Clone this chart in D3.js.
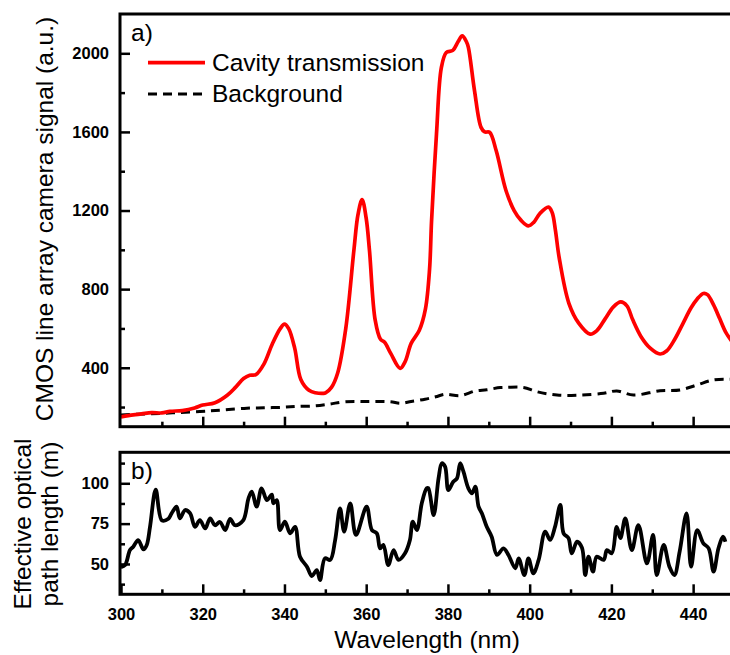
<!DOCTYPE html>
<html>
<head>
<meta charset="utf-8">
<script src="https://cdn.jsdelivr.net/npm/d3@7"></script>
<style>
  body { margin: 0; background: #fff; }
  svg { display: block; font-family: Arial, "Liberation Sans", sans-serif; }
</style>
</head>
<body>
<div id="chart"></div>
<script>

// panel a) cavity transmission, wavelength (nm) / signal (a.u.)
const cavityWl = [300, 303, 305, 307.5, 310, 312, 315, 318, 320, 323, 326, 328, 330, 331.5, 333, 335, 337, 339, 340, 341,
    342.5, 344, 346, 347.5, 350, 351.5, 353, 355, 357, 358, 359, 360, 360.8, 362.2, 363.5, 364.5, 366, 368.3, 369.5, 371,
    373, 374.5, 375.5, 376, 377.2, 378.4, 379.6, 381.2, 382.5, 383.5, 384.5, 385, 386.5, 388.1, 389, 390.2, 391.8, 394.2, 396.2, 397.9,
    399.7, 401, 402.5, 404.6, 405.5, 406.3, 407.2, 409.6, 412, 414.8, 416.5, 418.5, 420.5, 422.3, 423.8, 425.2, 427.3, 429.5, 431.9, 433.5,
    435.5, 437.5, 439.5, 441, 442.5, 443.5, 445, 446.5, 448, 450];
const cavitySig = [150, 160, 165, 172, 170, 178, 182, 195, 210, 222, 260, 300, 345, 362, 365, 420, 520, 600, 622, 600,
    500, 340, 285, 273, 272, 300, 372, 600, 1000, 1180, 1255, 1160, 997, 642, 545, 530, 473, 397, 430, 524,
    591, 700, 900, 1150, 1590, 1928, 2004, 2015, 2060, 2089, 2060, 2030, 1810, 1623, 1600, 1598, 1505, 1302, 1200, 1150,
    1122, 1140, 1185, 1217, 1190, 1100, 963, 728, 627, 571, 590, 650, 710, 735, 715, 645, 557, 500, 470, 485,
    545, 625, 705, 750, 778, 772, 720, 650, 580, 520];

// panel a) background
const bgWl = [300, 310, 319.3, 325, 330.8, 335, 339.7, 343, 347.5, 351, 354.8, 360, 365.9, 368.3, 371, 374.4, 377, 379.3, 383, 386.7,
    389.5, 392.8, 394.4, 398.5, 401.8, 406.7, 412.4, 418.1, 421.3, 425.4, 431.9, 436.8, 440.9, 445, 449.1, 450];
const bgSig = [160, 168, 177, 185, 194, 196, 199, 203, 206, 215, 227, 228, 227, 219, 228, 240, 252, 265, 258, 282,
    288, 299, 300, 300, 278, 261, 261, 270, 282, 261, 283, 287, 312, 338, 341, 342];

// panel b) effective optical path length (m)
const pathWl = [300, 301.0, 302.2, 303.0, 304.2, 305.5, 306.3, 307.1, 308.5, 310.0, 311.6, 312.4, 313.6, 314.4, 315.7, 316.9, 318.1, 319.3, 320.6, 321.8,
    323.0, 324.2, 325.5, 326.7, 327.9, 329.9, 331.2, 332.0, 333.2, 334.4, 335.7, 336.9, 337.3, 338.1, 338.9, 340.1, 341.4, 342.6, 343.8, 345.5,
    346.7, 347.9, 348.7, 349.9, 351.2, 352.4, 353.6, 354.6, 356.1, 357.5, 360.1, 361.4, 362.6, 363.4, 364.2, 365.4, 366.7, 367.9, 369.5, 370.7,
    371.4, 372.4, 373.6, 374.8, 375.2, 376.5, 377.7, 378.5, 379.3, 380.1, 381.3, 382.2, 383.0, 383.8, 385.0, 385.9, 386.7, 387.5, 388.3, 389.5,
    390.7, 392.0, 393.6, 394.8, 396.5, 397.3, 398.7, 399.7, 400.9, 402.2, 403.8, 405.0, 406.2, 407.5, 408.3, 409.5, 410.3, 411.6, 412.8, 413.6,
    414.4, 415.5, 416.4, 418.1, 418.9, 420.1, 421.3, 422.2, 423.4, 425.0, 426.6, 428.7, 430.2, 431.1, 432.8, 434.2, 435.4, 436.7, 438.4, 439.5,
    441.0, 442.5, 443.8, 445.0, 446.2, 447.3, 447.9];
const pathLen = [48, 49.3, 58.6, 60.7, 64.8, 59, 61.8, 73, 96, 77, 78, 81.4, 85.5, 78.3, 83.4, 81.4, 73, 77.2, 72, 78.3,
    74, 76, 71, 78, 74, 77, 90.7, 94.8, 85.5, 96.9, 89.6, 93, 87.6, 89.6, 71, 76.2, 69, 73, 54.5, 48.3,
    42.5, 46.2, 40, 53.5, 52.5, 64.8, 84.5, 70, 87.6, 68, 85.5, 71, 69, 59.7, 61.8, 49.3, 58.6, 52.5, 56.6, 64.8,
    76.2, 71, 87.6, 96.9, 97, 80.3, 103, 112.4, 110.3, 95.8, 101, 103, 112.4, 107.2, 96.9, 93.8, 97.9, 85.5, 81.4, 73,
    66.9, 55.6, 59.7, 55.6, 47.3, 53.5, 43.1, 53.5, 44.2, 52.5, 70, 64.9, 73, 86.6, 69, 66, 56.6, 63.8, 60, 43.1,
    54.5, 45.2, 54.5, 52.5, 58.6, 56.6, 73, 66, 78.3, 58.6, 74.1, 50.4, 68, 43.1, 61.8, 48.3, 43.1, 57.6, 81.4, 48.3,
    71, 62.8, 59.7, 45.2, 59.7, 66.9, 63.8];

const topTicks = [400, 800, 1200, 1600, 2000];
const topMinor = [200, 600, 1000, 1400, 1800];
const botTicks = [50, 75, 100];
const botMinor = [37.5, 62.5, 87.5, 112.5];
const xTicks = [300, 320, 340, 360, 380, 400, 420, 440];
const xMinor = [310, 330, 350, 370, 390, 410, 430, 450];

const width = 730;
const height = 655;

const left = 120, right = 734;
const topA = 14, bottomA = 426.7;
const topB = 452.3, bottomB = 594.3;

const svg = d3.select("#chart")
    .append("svg")
    .attr("width", width)
    .attr("height", height);

let x = d3.scaleLinear().domain([300, 450]).range([121, 734]);
let yA = d3.scaleLinear().domain([100, 2200]).range([bottomA, topA]);
let yB = d3.scaleLinear().domain([31.2, 119.2]).range([bottomB, topB]);

// clip paths for both panels
svg.append("clipPath").attr("id", "clipA")
    .append("rect").attr("x", left).attr("y", topA).attr("width", right - left).attr("height", bottomA - topA);
svg.append("clipPath").attr("id", "clipB")
    .append("rect").attr("x", left).attr("y", topB).attr("width", right - left).attr("height", bottomB - topB);

let styleAxis = function(g) {
    g.select(".domain").remove();
    g.selectAll(".tick line").attr("stroke", "#000").attr("stroke-width", 2.5);
    g.selectAll(".tick text")
        .attr("fill", "#000")
        .style("font-size", "16.5px")
        .style("font-weight", "bold")
        .style("font-family", "Arial, 'Liberation Sans', sans-serif");
};

// ---- panel a axes
svg.append("g")
    .attr("transform", `translate(${left},0)`)
    .call(d3.axisLeft(yA).tickValues(topTicks).tickSize(-10).tickPadding(11).tickFormat(d3.format("d")))
    .call(styleAxis);
svg.append("g")
    .attr("transform", `translate(${left},0)`)
    .call(d3.axisLeft(yA).tickValues(topMinor).tickSize(-5).tickFormat(""))
    .call(styleAxis);
svg.append("g")
    .attr("transform", `translate(0,${bottomA})`)
    .call(d3.axisBottom(x).tickValues(xTicks.slice(1)).tickSize(-10).tickFormat(""))
    .call(styleAxis);
svg.append("g")
    .attr("transform", `translate(0,${bottomA})`)
    .call(d3.axisBottom(x).tickValues(xMinor).tickSize(-5).tickFormat(""))
    .call(styleAxis);

// ---- panel b axes
svg.append("g")
    .attr("transform", `translate(${left},0)`)
    .call(d3.axisLeft(yB).tickValues(botTicks).tickSize(-10).tickPadding(11).tickFormat(d3.format("d")))
    .call(styleAxis);
svg.append("g")
    .attr("transform", `translate(${left},0)`)
    .call(d3.axisLeft(yB).tickValues(botMinor).tickSize(-5).tickFormat(""))
    .call(styleAxis);
svg.append("g")
    .attr("transform", `translate(0,${bottomB})`)
    .call(d3.axisBottom(x).tickValues(xTicks).tickSize(-10).tickPadding(14).tickFormat(d3.format("d")))
    .call(styleAxis);
svg.append("g")
    .attr("transform", `translate(0,${bottomB})`)
    .call(d3.axisBottom(x).tickValues(xMinor).tickSize(-5).tickFormat(""))
    .call(styleAxis);

// ---- lines
let cavity = cavityWl.map((w, i) => [w, cavitySig[i]]);
let background = bgWl.map((w, i) => [w, bgSig[i]]);
let pathData = pathWl.map((w, i) => [w, pathLen[i]]);

let lineA = d3.line().x(d => x(d[0])).y(d => yA(d[1])).curve(d3.curveCatmullRom.alpha(0.5));
let lineB = d3.line().x(d => x(d[0])).y(d => yB(d[1])).curve(d3.curveCatmullRom.alpha(0.5));

let gA = svg.append("g").attr("clip-path", "url(#clipA)");
gA.append("path")
    .datum(background)
    .attr("d", lineA)
    .attr("fill", "none")
    .attr("stroke", "#000")
    .attr("stroke-width", 3)
    .attr("stroke-dasharray", "9,6");
gA.append("path")
    .datum(cavity)
    .attr("d", lineA)
    .attr("fill", "none")
    .attr("stroke", "#ff0000")
    .attr("stroke-width", 3.7)
    .attr("stroke-linejoin", "round");

svg.append("g").attr("clip-path", "url(#clipB)")
    .append("path")
    .datum(pathData)
    .attr("d", lineB)
    .attr("fill", "none")
    .attr("stroke", "#000")
    .attr("stroke-width", 3.8)
    .attr("stroke-linejoin", "round");

// ---- frames
svg.append("rect")
    .attr("x", left).attr("y", topA)
    .attr("width", right - left).attr("height", bottomA - topA)
    .attr("fill", "none").attr("stroke", "#000").attr("stroke-width", 3);
svg.append("rect")
    .attr("x", left).attr("y", topB)
    .attr("width", right - left).attr("height", bottomB - topB)
    .attr("fill", "none").attr("stroke", "#000").attr("stroke-width", 3);

// ---- legend
svg.append("line")
    .attr("x1", 148).attr("x2", 205).attr("y1", 62.7).attr("y2", 62.7)
    .attr("stroke", "#ff0000").attr("stroke-width", 3.7);
svg.append("text")
    .attr("x", 212).attr("y", 71)
    .style("font-size", "24.5px")
    .text("Cavity transmission");
svg.append("line")
    .attr("x1", 148).attr("x2", 205).attr("y1", 94).attr("y2", 94)
    .attr("stroke", "#000").attr("stroke-width", 3).attr("stroke-dasharray", "9,6");
svg.append("text")
    .attr("x", 212).attr("y", 102)
    .style("font-size", "24.5px")
    .text("Background");

// ---- panel letters
svg.append("text").attr("x", 131).attr("y", 41).style("font-size", "24.5px").text("a)");
svg.append("text").attr("x", 131).attr("y", 479).style("font-size", "24.5px").text("b)");

// ---- axis titles
svg.append("text")
    .attr("transform", "translate(53,219) rotate(-90)")
    .attr("text-anchor", "middle")
    .style("font-size", "24.5px")
    .text("CMOS line array camera signal (a.u.)");

svg.append("text")
    .attr("transform", "translate(31,524) rotate(-90)")
    .attr("text-anchor", "middle")
    .style("font-size", "24.5px")
    .text("Effective optical");
svg.append("text")
    .attr("transform", "translate(58,524) rotate(-90)")
    .attr("text-anchor", "middle")
    .style("font-size", "24.5px")
    .text("path length (m)");

svg.append("text")
    .attr("x", 427).attr("y", 648)
    .attr("text-anchor", "middle")
    .style("font-size", "24.5px")
    .text("Wavelength (nm)");

</script>
</body>
</html>
